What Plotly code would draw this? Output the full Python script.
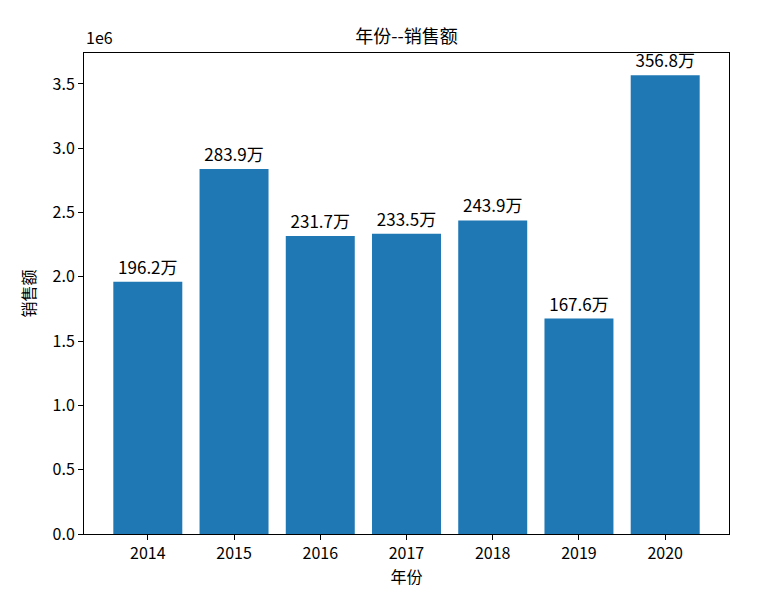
import plotly.graph_objects as go

years = ["2014", "2015", "2016", "2017", "2018", "2019", "2020"]
sales = [1962000, 2839000, 2317000, 2335000, 2439000, 1676000, 3568000]
labels = [f"{v/10000:.1f}万" for v in sales]
y_ticks = [0, 0.5e6, 1.0e6, 1.5e6, 2.0e6, 2.5e6, 3.0e6, 3.5e6]
y_tick_text = ["0.0", "0.5", "1.0", "1.5", "2.0", "2.5", "3.0", "3.5"]

FONT = "Noto Sans CJK SC"
x_idx = list(range(len(years)))

fig = go.Figure(go.Bar(
    x=x_idx, y=sales, width=0.8,
    marker=dict(color="#1f77b4", line=dict(width=0)),
    text=labels, textposition="outside", cliponaxis=False,
    textfont=dict(family=FONT, size=17, color="black"),
))

fig.update_layout(
    width=760, height=595,
    margin=dict(l=84, r=31, t=53, b=61),
    paper_bgcolor="white", plot_bgcolor="white",
    font=dict(family=FONT, size=16, color="black"),
    showlegend=False,
    title=dict(text="年份--销售额", x=0.5, xanchor="center", xref="paper",
               y=1 - 37 / 595, yref="container", yanchor="middle",
               font=dict(size=18)),
    xaxis=dict(
        range=[-0.74, 6.74], tickvals=x_idx, ticktext=years,
        showline=True, linecolor="black", linewidth=1, mirror=True,
        ticks="outside", ticklen=5, tickcolor="black", showgrid=False,
        zeroline=False,
        title=dict(text="年份", font=dict(size=16), standoff=8),
    ),
    yaxis=dict(
        range=[0, 3.741e6], tickvals=y_ticks, ticktext=y_tick_text,
        showline=True, linecolor="black", linewidth=1, mirror=True,
        ticks="outside", ticklen=5, tickcolor="black", showgrid=False,
        zeroline=False,
        title=dict(text="销售额", font=dict(size=16), standoff=12),
    ),
    uniformtext=dict(mode=False),
    annotations=[dict(text="1e6", x=0, xref="paper", y=1, yref="paper",
                      xanchor="left", yanchor="bottom", yshift=2,
                      showarrow=False, font=dict(size=16))],
)

fig.write_html("out.html")
